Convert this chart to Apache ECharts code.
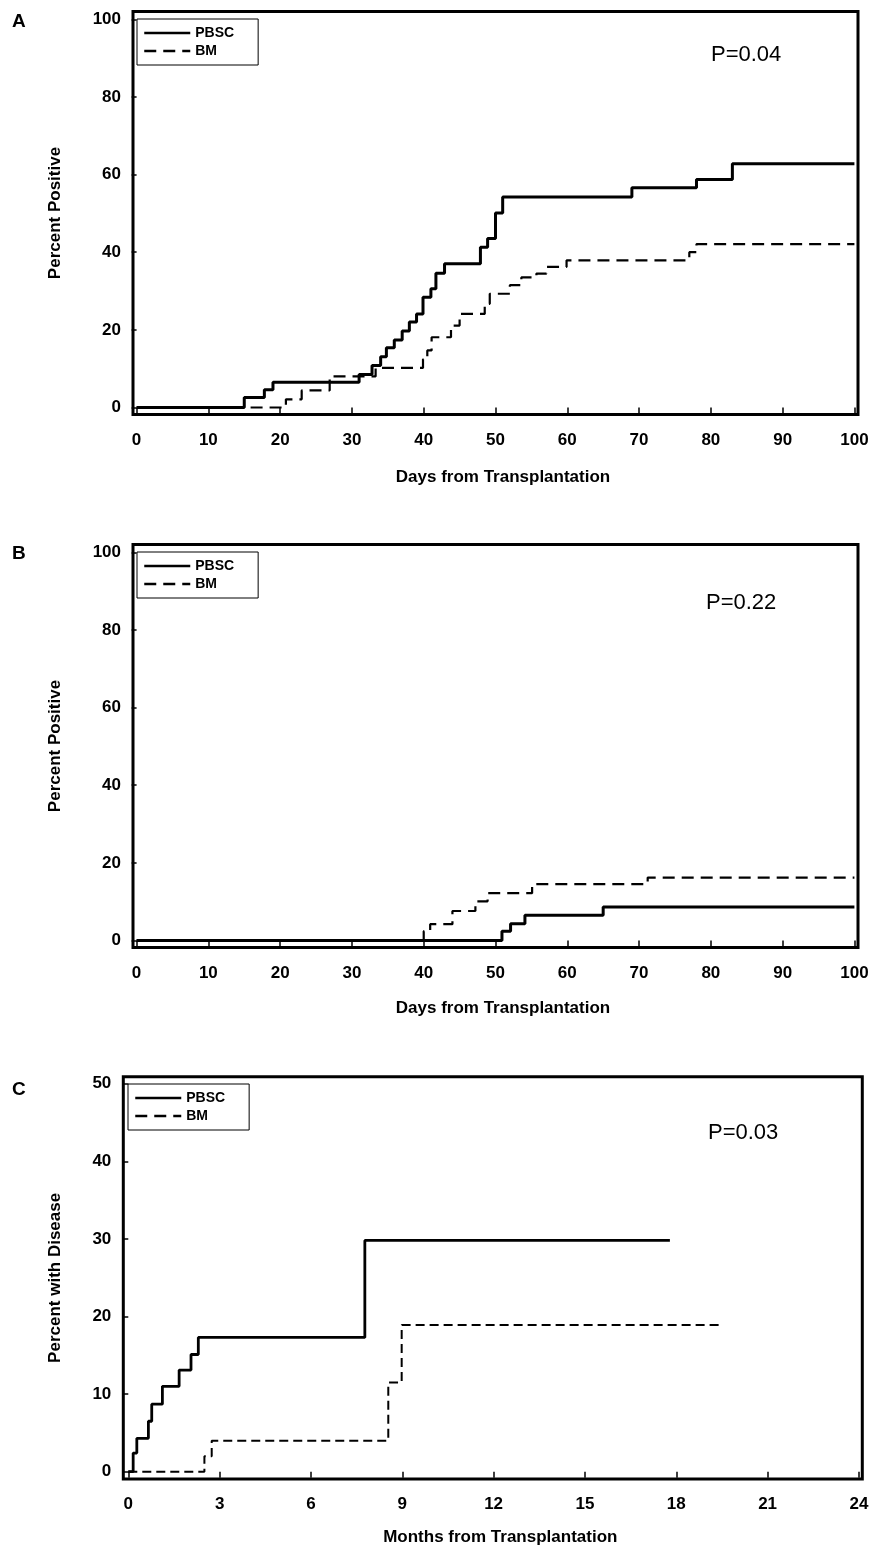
<!DOCTYPE html>
<html>
<head>
<meta charset="utf-8">
<script src="https://cdn.jsdelivr.net/npm/echarts@6.0.0/dist/echarts.min.js"></script>
<style>
  html, body { margin: 0; padding: 0; background: #fff; }
</style>
</head>
<body>
<div id="main" style="width:872px;height:1551px;"></div>
<script>
// panel A - days vs percent positive
let aPbscDays = [0, 15, 17.8, 19, 31, 32.8, 34, 34.8, 35.9, 37, 38, 39, 39.9, 41, 41.7, 42.9, 47.9, 48.9, 50, 51, 69, 78, 83, 100];
let aPbsc     = [0, 2.6, 4.6, 6.5, 8.5, 10.8, 13.1, 15.4, 17.4, 19.7, 22, 24.1, 28.4, 30.6, 34.6, 37, 41.3, 43.5, 50.1, 54.2, 56.6, 58.7, 62.8, 62.8];
let aBmDays   = [0, 20.8, 23, 26.9, 33.3, 39.9, 40.5, 41.1, 43.8, 45, 48.5, 49.2, 52, 53.6, 55.7, 57.1, 59.9, 77, 78, 100];
let aBm       = [0, 2.1, 4.4, 8.0, 10.2, 12.4, 14.7, 18.1, 21.1, 24.1, 26.7, 29.3, 31.5, 33.5, 34.5, 36.2, 37.9, 40, 42.1, 42.1];

// panel B
let bPbscDays = [0, 50.9, 52.1, 54.1, 65, 100];
let bPbsc     = [0, 2.4, 4.3, 6.5, 8.6, 8.6];
let bBmDays   = [0, 40, 40.9, 44, 47.2, 48.9, 55.1, 71.2, 100];
let bBm       = [0, 2.4, 4.2, 7.6, 10.1, 12.2, 14.5, 16.2, 16.2];

// panel C - months vs percent with disease
let cPbscMonths = [0, 0.16, 0.28, 0.66, 0.77, 1.12, 1.67, 2.06, 2.3, 7.77, 17.79];
let cPbsc       = [0, 2.4, 4.3, 6.5, 8.7, 11.0, 13.1, 15.1, 17.3, 29.8, 29.8];
let cBmMonths   = [0, 2.5, 2.74, 8.54, 8.98, 19.49];
let cBm         = [0, 2.0, 4.0, 11.5, 18.9, 18.9];

// tick labels
let dayTicks = [0, 10, 20, 30, 40, 50, 60, 70, 80, 90, 100];
let monthTicks = [0, 3, 6, 9, 12, 15, 18, 21, 24];
let pctTicks = [0, 20, 40, 60, 80, 100];
let diseaseTicks = [0, 10, 20, 30, 40, 50];

let pValues = ['P=0.04', 'P=0.22', 'P=0.03'];
let panelLetters = ['A', 'B', 'C'];

const FONT = 'Liberation Sans, Arial, sans-serif';

function pairs(xs, ys) {
  return xs.map((x, i) => [x, ys[i]]);
}

function xAxisFor(gridIndex, min, max, ticks, name, nameGap) {
  return {
    gridIndex: gridIndex,
    type: 'value',
    min: min,
    max: max,
    name: name,
    nameLocation: 'middle',
    nameGap: nameGap,
    nameTextStyle: { fontFamily: FONT, fontSize: 17, fontWeight: 'bold', color: '#000', padding: [0, 0, 0, 15] },
    axisLine: { show: false },
    splitLine: { show: false },
    axisTick: { show: true, length: 6, customValues: ticks, lineStyle: { color: '#000', width: 1.5 } },
    axisLabel: { customValues: ticks, margin: 17, fontFamily: FONT, fontSize: 17, fontWeight: 'bold', color: '#000' }
  };
}

function yAxisFor(gridIndex, min, max, ticks, name, nameGap) {
  return {
    gridIndex: gridIndex,
    type: 'value',
    min: min,
    max: max,
    name: name,
    nameLocation: 'middle',
    nameGap: nameGap,
    nameTextStyle: { fontFamily: FONT, fontSize: 17, fontWeight: 'bold', color: '#000' },
    axisLine: { show: false },
    splitLine: { show: false },
    axisTick: { show: true, length: 5, customValues: ticks, lineStyle: { color: '#000', width: 1.5 } },
    axisLabel: { customValues: ticks, margin: 12, fontFamily: FONT, fontSize: 17, fontWeight: 'bold', color: '#000' }
  };
}

function legendFor(left, top) {
  return {
    orient: 'vertical',
    left: left,
    top: top,
    padding: [7, 24, 7, 6],
    itemWidth: 46,
    itemHeight: 14,
    itemGap: 4,
    borderColor: '#000',
    borderWidth: 1,
    selectedMode: false,
    itemStyle: { opacity: 0 },
    lineStyle: { width: 2.5 },
    data: ['PBSC', 'BM'],
    textStyle: { fontFamily: FONT, fontSize: 14, fontWeight: 'bold', color: '#000' }
  };
}

function stepLine(name, data, xi, width, dash) {
  return {
    name: name,
    type: 'line',
    step: 'end',
    xAxisIndex: xi,
    yAxisIndex: xi,
    symbol: 'none',
    silent: true,
    lineStyle: { color: '#000', width: width, type: dash || 'solid' },
    itemStyle: { color: '#000' },
    data: data
  };
}

var myChart = echarts.init(document.getElementById('main'));

let option = {
  backgroundColor: '#fff',
  animation: false,
  title: [
    { text: panelLetters[0], left: 12, top: 12, padding: 0, textStyle: { fontFamily: FONT, fontSize: 19, fontWeight: 'bold', color: '#000' } },
    { text: panelLetters[1], left: 12, top: 544, padding: 0, textStyle: { fontFamily: FONT, fontSize: 19, fontWeight: 'bold', color: '#000' } },
    { text: panelLetters[2], left: 12, top: 1080, padding: 0, textStyle: { fontFamily: FONT, fontSize: 19, fontWeight: 'bold', color: '#000' } },
    { text: pValues[0], left: 711, top: 44, padding: 0, textStyle: { fontFamily: FONT, fontSize: 22, fontWeight: 'normal', color: '#000' } },
    { text: pValues[1], left: 706, top: 592, padding: 0, textStyle: { fontFamily: FONT, fontSize: 22, fontWeight: 'normal', color: '#000' } },
    { text: pValues[2], left: 708, top: 1122, padding: 0, textStyle: { fontFamily: FONT, fontSize: 22, fontWeight: 'normal', color: '#000' } }
  ],
  legend: [
    legendFor(137, 19),
    legendFor(137, 552),
    legendFor(128, 1084)
  ],
  grid: [
    { left: 133, top: 11.5, width: 725, height: 403, show: true, borderColor: '#000', borderWidth: 3, backgroundColor: 'transparent' },
    { left: 133, top: 544.5, width: 725, height: 403, show: true, borderColor: '#000', borderWidth: 3, backgroundColor: 'transparent' },
    { left: 123.3, top: 1076.7, width: 739, height: 402.3, show: true, borderColor: '#000', borderWidth: 3, backgroundColor: 'transparent' }
  ],
  xAxis: [
    xAxisFor(0, -0.5, 100.5, dayTicks, 'Days from Transplantation', 54),
    xAxisFor(1, -0.5, 100.5, dayTicks, 'Days from Transplantation', 52),
    xAxisFor(2, -0.164, 24.11, monthTicks, 'Months from Transplantation', 50)
  ],
  yAxis: [
    yAxisFor(0, -1.8, 102, pctTicks, 'Percent Positive', 69),
    yAxisFor(1, -1.8, 102, pctTicks, 'Percent Positive', 69),
    yAxisFor(2, -0.94, 50.9, diseaseTicks, 'Percent with Disease', 59)
  ],
  series: [
    stepLine('BM', pairs(aBmDays, aBm), 0, 2.2, [12, 7]),
    stepLine('PBSC', pairs(aPbscDays, aPbsc), 0, 3),
    stepLine('BM', pairs(bBmDays, bBm), 1, 2.2, [12, 7]),
    stepLine('PBSC', pairs(bPbscDays, bPbsc), 1, 3),
    stepLine('BM', pairs(cBmMonths, cBm), 2, 2, [9, 5]),
    stepLine('PBSC', pairs(cPbscMonths, cPbsc), 2, 2.8)
  ]
};

myChart.setOption(option);
</script>
</body>
</html>
